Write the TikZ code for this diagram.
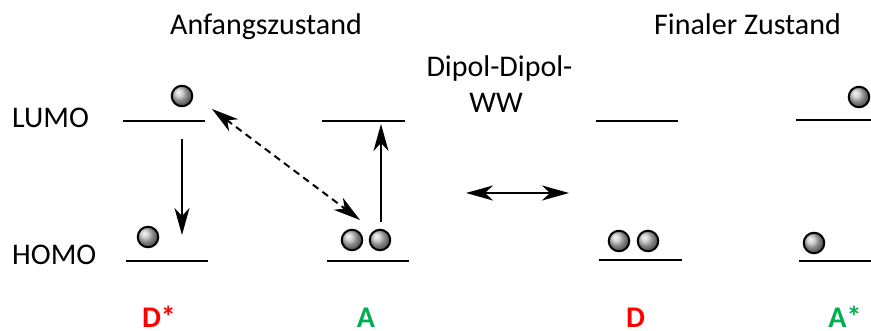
\documentclass[tikz,border=0pt]{standalone}
\usepackage{fontspec}
\setmainfont{Carlito}
\usetikzlibrary{arrows.meta}
\definecolor{donorred}{RGB}{255,0,0}
\definecolor{acceptorgreen}{RGB}{0,176,80}
\tikzset{
  level/.style={line width=2.6pt},
  electron/.style={circle, draw=black, line width=2pt, minimum size=20.5pt, inner sep=0pt,
    shading=ball, ball color=gray!50},
  txt/.style={font=\fontsize{30}{36}\selectfont, inner sep=0pt, anchor=base},
  lbl/.style={font=\fontsize{30}{36}\selectfont\bfseries, inner sep=0pt, anchor=base},
  arr/.style={line width=2pt, -{Stealth[length=27pt,width=15pt,inset=8pt]}},
  dblarr/.style={line width=2pt, {Stealth[length=27pt,width=15pt,inset=8pt]}-{Stealth[length=27pt,width=15pt,inset=8pt]}},
}
\begin{document}
\begin{tikzpicture}[x=1pt,y=-1pt]
\useasboundingbox (0,0) rectangle (871,331);

% headings
\node[txt] (start) at (266,35) {Anfangszustand};
\node[txt] (final) at (747.5,35) {Finaler Zustand};
\node[txt] (dd) at (499.5,77) {Dipol-Dipol-};
\node[txt] (ww) at (496,113) {WW};
\node[txt, anchor=base west] (lumo) at (12,128) {LUMO};
\node[txt, anchor=base west] (homo) at (12,265) {HOMO};

% orbital levels
\draw[level] (123,121) -- (205,121);
\draw[level] (126,261) -- (208,261);
\draw[level] (322,121) -- (405,121);
\draw[level] (327,261) -- (409,261);
\draw[level] (596,121) -- (678,121);
\draw[level] (599,260) -- (682,260);
\draw[level] (796,120) -- (871,120);
\draw[level] (799,261) -- (871,261);

% electrons
\node[electron] (e1) at (182,96) {};
\node[electron] (e2) at (148,237) {};
\node[electron] (e3) at (352,240) {};
\node[electron] (e4) at (380,240) {};
\node[electron] (e5) at (619,241) {};
\node[electron] (e6) at (648,241) {};
\node[electron] (e7) at (859,97) {};
\node[electron] (e8) at (814,243) {};

% transitions
\coordinate (dtop) at (182,139);
\coordinate (dbot) at (182,235);
\coordinate (abot) at (381,222);
\coordinate (atop) at (381,124);
\coordinate (c1) at (212,109);
\coordinate (c2) at (360,220);
\coordinate (l1) at (466,193);
\coordinate (l2) at (569,193);
\draw[arr] (dtop) -- (dbot);
\draw[arr] (abot) -- (atop);
\draw[dblarr, dash pattern=on 7pt off 5pt] (c1) -- (c2);
\draw[dblarr] (l1) -- (l2);

% molecule labels
\node[lbl, text=donorred] (ldstar) at (159,328) {D*};
\node[lbl, text=acceptorgreen] (la) at (366,328) {A};
\node[lbl, text=donorred] (ld) at (635.5,328) {D};
\node[lbl, text=acceptorgreen] (lastar) at (845,328) {A*};
\end{tikzpicture}
\end{document}
